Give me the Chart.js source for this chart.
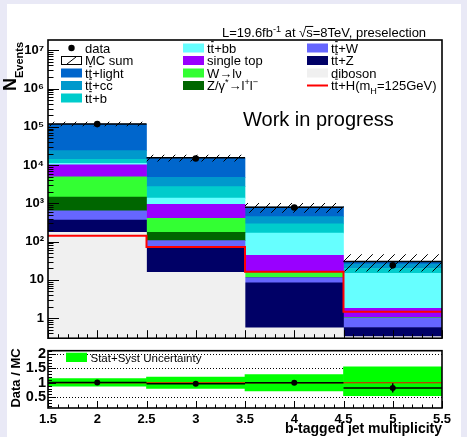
<!DOCTYPE html>
<html>
<head>
<meta charset="utf-8">
<script src="https://cdn.jsdelivr.net/npm/chart.js@4.4.0/dist/chart.umd.min.js"></script>
<style>
  html, body { margin: 0; padding: 0; background: #e9e9f6; }
  #page { position: relative; width: 467px; height: 437px; overflow: hidden; }
  #sheet { position: absolute; left: 7px; top: 4px; width: 454px; height: 433px; background: #fff; }
  canvas { position: absolute; left: 0; }
  #mainChart { top: 0; }
  #ratioChart { top: 340px; }
</style>
</head>
<body>
<div id="page">
  <div id="sheet"></div>
  <canvas id="mainChart" width="467" height="350"></canvas>
  <canvas id="ratioChart" width="467" height="97"></canvas>
</div>
<script>
// bins: b-tagged jet multiplicity 2, 3, 4, 5
const binCentres = [2, 3, 4, 5];
const binEdges = [1.5, 2.5, 3.5, 4.5, 5.5];
const xTicks = [1.5, 2, 2.5, 3, 3.5, 4, 4.5, 5, 5.5];
const yDecades = [1, 10, 100, 1e3, 1e4, 1e5, 1e6, 1e7];
const ratioTicks = [0.5, 1, 1.5, 2];

// expected yields per process
const diboson   = [174, 15.7, 0.56, 0];
const ttZ       = [194, 52, 7.8, 0.57];
const ttW       = [270, 38, 3.1, 0.43];
const Zll       = [821, 68, 0.3, 0.01];
const Wlv       = [3496, 231, 4.3, 0.02];
const singleTop = [5115, 543, 27.8, 0.78];
const ttbb      = [1000, 427, 123, 13.0];
const ttb       = [3120, 1372, 124, 5.1];
const ttcc      = [9710, 2008, 157, 5.9];
const ttlight   = [94100, 10745, 346, 4.3];
const ttH       = [143, 72, 16.4, 1.48];
const dataYield = [117500, 14900, 782, 24];

// ratio pad
const ratioVal  = [1.01, 0.97, 1.0, 0.82];
const ratioErr  = [0.003, 0.008, 0.036, 0.16];
const bandLow   = [0.88, 0.80, 0.72, 0.55];
const bandHigh  = [1.15, 1.20, 1.29, 1.56];

const Y_MIN = 0.33, Y_MAX = 1.85e7;
const R_MIN = 0.12, R_MAX = 2.12;

const FONT = '"Liberation Sans", Arial, Helvetica, sans-serif';
Chart.defaults.font.family = FONT;
Chart.defaults.color = '#000';

// stack, bottom first
const stackOrder = [
  ['diboson', diboson, '#f0f0f0'],
  ['ttZ', ttZ, '#000066'],
  ['ttW', ttW, '#6666ff'],
  ['Zll', Zll, '#006600'],
  ['Wlv', Wlv, '#33ff33'],
  ['singleTop', singleTop, '#9900ff'],
  ['ttbb', ttbb, '#66ffff'],
  ['ttb', ttb, '#00cccc'],
  ['ttcc', ttcc, '#0099cc'],
  ['ttlight', ttlight, '#0066cc']
];
const colorOf = {};
stackOrder.forEach(s => { colorOf[s[0]] = s[2]; });

// all bars share one stack slot so each one fills the whole bin
const barBase = { type: 'bar', stack: 'mc', borderWidth: 0, barThickness: 'flex', categoryPercentage: 1, barPercentage: 1 };

const cum = binCentres.map(() => 0);
const stackSets = stackOrder.map(([name, vals, color]) => {
  const pts = binCentres.map((x, i) => {
    const lo = cum[i];
    cum[i] += vals[i];
    return { x: x, y: [Math.max(lo, Y_MIN), Math.max(cum[i], Y_MIN)] };
  });
  return Object.assign({}, barBase, { label: name, data: pts, backgroundColor: color, order: 10 });
});
const mcTotal = cum.slice();

// hatch for MC sum uncertainty
function makeHatch() {
  const c = document.createElement('canvas');
  c.width = 11; c.height = 11;
  const g = c.getContext('2d');
  g.strokeStyle = '#000';
  g.lineWidth = 1;
  g.beginPath();
  g.moveTo(0, 11); g.lineTo(11, 0);
  g.moveTo(-1, 1); g.lineTo(1, -1);
  g.moveTo(10, 12); g.lineTo(12, 10);
  g.stroke();
  return g.createPattern(c, 'repeat');
}

// horizontal segment per bin, broken between bins
function binSegments(vals) {
  const pts = [];
  vals.forEach((v, i) => {
    pts.push({ x: binEdges[i], y: v }, { x: binEdges[i + 1], y: v }, { x: binEdges[i + 1], y: null });
  });
  return pts;
}

function stepPoints(vals) {
  const pts = vals.map((v, i) => ({ x: binEdges[i], y: v }));
  pts.push({ x: binEdges[vals.length], y: vals[vals.length - 1] });
  return pts;
}

const supDigits = { 0: '\u2070', 1: '\u00b9', 2: '\u00b2', 3: '\u00b3', 4: '\u2074', 5: '\u2075', 6: '\u2076', 7: '\u2077' };
function powLabel(v) {
  const e = Math.round(Math.log10(v));
  if (e === 0) return '1';
  if (e === 1) return '10';
  return '10' + supDigits[e];
}

// text with sub/superscripts and bars: parts = [text, mode, size, drop]
function drawRich(ctx, parts, x, y, size, bold) {
  let cx = x;
  parts.forEach(p => {
    const t = p[0], m = p[1] || '';
    const s = p[2] || ((m === 'sup' || m === 'sub') ? size * 0.7 : size);
    ctx.font = (bold ? 'bold ' : '') + s + 'px ' + FONT;
    let dy = 0;
    if (m === 'sup') dy = -size * 0.42;
    if (m === 'sub') dy = p[3] !== undefined ? p[3] : size * 0.3;
    ctx.fillText(t, cx, y + dy);
    const w = ctx.measureText(t).width;
    if (m === 'bar') ctx.fillRect(cx + 0.5, y - size * 0.88, w - 1, 1);
    if (m === 'sqrt') {
      ctx.fillRect(cx + w - 1, y - size * 0.85, ctx.measureText('s').width + 1.5, 1);
    }
    cx += w;
  });
  return cx - x;
}

// ROOT-like frame with ticks inside
const rootFrame = {
  id: 'rootFrame',
  beforeDatasetsDraw(chart, args, opts) {
    if (!opts.dotted) return;
    const { ctx, chartArea: a, scales: { y } } = chart;
    ctx.save();
    ctx.strokeStyle = '#000';
    ctx.lineWidth = 1;
    ctx.setLineDash([1, 2]);
    opts.dotted.forEach(v => {
      const py = Math.round(y.getPixelForValue(v)) + 0.5;
      ctx.beginPath(); ctx.moveTo(a.left, py); ctx.lineTo(a.right, py); ctx.stroke();
    });
    ctx.restore();
  },
  afterDatasetsDraw(chart, args, opts) {
    const { ctx, chartArea: a, scales: { x, y } } = chart;
    ctx.save();
    ctx.strokeStyle = '#000';
    ctx.lineWidth = 1;
    ctx.beginPath();
    // x ticks: majors every 0.5, minors every 0.1
    for (let i = 15; i <= 55; i++) {
      const px = Math.round(x.getPixelForValue(i / 10)) + 0.5;
      const len = i % 5 === 0 ? opts.xMajorLen : opts.xMinorLen;
      ctx.moveTo(px, a.bottom); ctx.lineTo(px, a.bottom - len);
    }
    // y ticks
    opts.yMinor.forEach(v => {
      const py = Math.round(y.getPixelForValue(v)) + 0.5;
      ctx.moveTo(a.left, py); ctx.lineTo(a.left + opts.yMinorLen, py);
    });
    opts.yMajor.forEach(v => {
      const py = Math.round(y.getPixelForValue(v)) + 0.5;
      ctx.moveTo(a.left, py); ctx.lineTo(a.left + opts.yMajorLen, py);
    });
    ctx.stroke();
    ctx.lineWidth = 1.6;
    ctx.strokeRect(a.left, a.top, a.right - a.left, a.bottom - a.top);
    ctx.restore();
  }
};

const logMinor = [];
for (let d = 0.1; d <= 1e7; d *= 10) {
  for (let k = 2; k <= 9; k++) {
    const v = k * d;
    if (v > Y_MIN && v < Y_MAX) logMinor.push(v);
  }
}
const linMinor = [];
for (let i = 2; i <= 21; i++) linMinor.push(i / 10);

const tt = (rest) => [['t'], ['t', 'bar'], [rest]];
const legendCols = [
  { x: 61, rows: [
    { kind: 'dot', text: [['data']] },
    { kind: 'hatch', text: [['MC sum']] },
    { kind: 'box', color: colorOf.ttlight, text: tt('+light') },
    { kind: 'box', color: colorOf.ttcc, text: tt('+cc') },
    { kind: 'box', color: colorOf.ttb, text: tt('+b') }
  ] },
  { x: 183, rows: [
    { kind: 'box', color: colorOf.ttbb, text: tt('+bb') },
    { kind: 'box', color: colorOf.singleTop, text: [['single top']] },
    { kind: 'box', color: colorOf.Wlv, text: [['W\u2192l\u03bd']] },
    { kind: 'box', color: colorOf.Zll, text: [['Z/\u03b3'], ['*', 'sup'], ['\u2192l'], ['+', 'sup'], ['l'], ['\u2212', 'sup']] }
  ] },
  { x: 307, rows: [
    { kind: 'box', color: colorOf.ttW, text: tt('+W') },
    { kind: 'box', color: colorOf.ttZ, text: tt('+Z') },
    { kind: 'box', color: colorOf.diboson, text: [['diboson']] },
    { kind: 'line', color: '#ff0000', text: [['t'], ['t', 'bar'], ['+H(m'], ['H', 'sub'], ['=125GeV)']] }
  ] }
];

const mainDecor = {
  id: 'mainDecor',
  afterDraw(chart) {
    const ctx = chart.ctx;
    ctx.save();
    ctx.fillStyle = '#000';
    ctx.textBaseline = 'alphabetic';
    ctx.textAlign = 'left';

    // legend
    legendCols.forEach(col => {
      col.rows.forEach((r, i) => {
        const cy = 48 + i * 12.5;
        const bx = col.x, bw = 21, bh = 9;
        if (r.kind === 'box') {
          ctx.fillStyle = r.color;
          ctx.fillRect(bx, cy - bh / 2, bw, bh);
        } else if (r.kind === 'hatch') {
          ctx.strokeStyle = '#000'; ctx.lineWidth = 1;
          ctx.strokeRect(bx + 0.5, cy - bh / 2 + 0.5, bw - 1, bh - 1);
          ctx.beginPath(); ctx.moveTo(bx + 6, cy + bh / 2 - 1); ctx.lineTo(bx + 15, cy - bh / 2 + 1); ctx.stroke();
        } else if (r.kind === 'dot') {
          ctx.fillStyle = '#000';
          ctx.beginPath(); ctx.arc(bx + bw / 2, cy, 3.2, 0, Math.PI * 2); ctx.fill();
        } else if (r.kind === 'line') {
          ctx.fillStyle = r.color;
          ctx.fillRect(bx, cy - 1, bw, 2);
        }
        ctx.fillStyle = '#000';
        drawRich(ctx, r.text, bx + 24, cy + 4.6, 13, false);
      });
    });

    // luminosity line
    drawRich(ctx, [['L=19.6fb'], ['-1', 'sup'], [' at '], ['\u221a', 'sqrt'], ['s=8TeV, preselection']], 222, 37, 13, false);

    ctx.font = '20px ' + FONT;
    ctx.fillText('Work in progress', 243, 126);

    // y title N_Events
    ctx.translate(15.5, 91);
    ctx.rotate(-Math.PI / 2);
    drawRich(ctx, [['N', '', 18], ['Events', 'sub', 11, 7.5]], 0, 0, 18, true);
    ctx.restore();
  }
};

const ratioDecor = {
  id: 'ratioDecor',
  afterDraw(chart) {
    const ctx = chart.ctx;
    ctx.save();
    ctx.fillStyle = '#00ff00';
    ctx.fillRect(66, 12.7, 21, 9.3);
    ctx.fillStyle = '#000';
    ctx.font = '11.5px ' + FONT;
    ctx.textBaseline = 'alphabetic';
    ctx.fillText('Stat+Syst Uncertainty', 90.5, 21.5);

    ctx.font = 'bold 14px ' + FONT;
    ctx.textAlign = 'right';
    ctx.fillText('b-tagged jet multiplicity', 442, 93);

    ctx.translate(20, 38);
    ctx.rotate(-Math.PI / 2);
    ctx.textAlign = 'center';
    ctx.font = 'bold 13px ' + FONT;
    ctx.fillText('Data / MC', 0, 0);
    ctx.restore();
  }
};

const tickFont = { size: 13, weight: 'bold' };

new Chart(document.getElementById('mainChart'), {
  type: 'bar',
  data: {
    datasets: [
      { type: 'line', label: 'data', data: binCentres.map((x, i) => ({ x: x, y: dataYield[i] })),
        showLine: false, pointRadius: 3.3, pointBackgroundColor: '#000', pointBorderWidth: 0, order: 0 },
      { type: 'line', label: 'ttH', data: stepPoints(ttH), stepped: true, borderColor: '#ff0000',
        borderWidth: 2, pointRadius: 0, fill: false, order: 1 },
      { type: 'line', label: 'MC sum line', data: binSegments(mcTotal), spanGaps: false, borderColor: '#000',
        borderWidth: 1.5, pointRadius: 0, fill: false, order: 2 },
      Object.assign({}, barBase, { label: 'MC sum',
        data: binCentres.map((x, i) => ({ x: x, y: [mcTotal[i] * bandLow[i], mcTotal[i] * bandHigh[i]] })),
        backgroundColor: makeHatch(), inflateAmount: 0, order: 3 }),
      ...stackSets
    ]
  },
  options: {
    responsive: false,
    animation: false,
    events: [],
    layout: { padding: { left: 7, right: 25, top: 40, bottom: 8 } },
    plugins: {
      legend: { display: false },
      tooltip: { enabled: false },
      rootFrame: { xMajorLen: 8, xMinorLen: 4, yMajor: yDecades, yMinor: logMinor, yMajorLen: 11, yMinorLen: 5.5 }
    },
    scales: {
      x: { type: 'linear', min: 1.5, max: 5.5, offset: false, display: false },
      y: {
        type: 'logarithmic', min: Y_MIN, max: Y_MAX, stacked: false,
        grid: { display: false, drawTicks: false }, border: { display: false },
        afterBuildTicks: s => { s.ticks = yDecades.map(v => ({ value: v })); },
        afterFit: s => { s.width = 41; },
        ticks: { callback: v => powLabel(v), font: tickFont, color: '#000', padding: 4, autoSkip: false }
      }
    }
  },
  plugins: [rootFrame, mainDecor]
});

new Chart(document.getElementById('ratioChart'), {
  type: 'bar',
  data: {
    datasets: [
      { type: 'line', label: 'ratio points', data: binCentres.map((x, i) => ({ x: x, y: ratioVal[i] })),
        showLine: false, pointRadius: 3, pointBackgroundColor: '#000', pointBorderWidth: 0, order: 0 },
      { type: 'line', label: 'ratio errors',
        data: binCentres.flatMap((x, i) => [{ x: x, y: ratioVal[i] - ratioErr[i] }, { x: x, y: ratioVal[i] + ratioErr[i] }, { x: x, y: null }]),
        spanGaps: false, borderColor: '#000', borderWidth: 1.5, pointRadius: 0, order: 1 },
      { type: 'line', label: 'ratio', data: binSegments(ratioVal), spanGaps: false, borderColor: '#000',
        borderWidth: 1.5, pointRadius: 0, order: 2 },
      { type: 'line', label: 'unity', data: [{ x: 1.5, y: 1 }, { x: 5.5, y: 1 }], borderColor: '#ff0000',
        borderWidth: 1, pointRadius: 0, order: 3 },
      Object.assign({}, barBase, { label: 'Stat+Syst Uncertainty',
        data: binCentres.map((x, i) => ({ x: x, y: [bandLow[i], bandHigh[i]] })),
        backgroundColor: '#00ff00', order: 10 })
    ]
  },
  options: {
    responsive: false,
    animation: false,
    events: [],
    layout: { padding: { left: 7, right: 25, top: 7, bottom: 9 } },
    plugins: {
      legend: { display: false },
      tooltip: { enabled: false },
      rootFrame: { dotted: [0.5, 1.5, 2], xMajorLen: 7, xMinorLen: 3.5, yMajor: ratioTicks, yMinor: linMinor, yMajorLen: 8, yMinorLen: 4 }
    },
    scales: {
      x: {
        type: 'linear', min: 1.5, max: 5.5, offset: false,
        grid: { display: false, drawTicks: false }, border: { display: false },
        afterBuildTicks: s => { s.ticks = xTicks.map(v => ({ value: v })); },
        afterFit: s => { s.height = 20; },
        ticks: { callback: v => String(v), font: tickFont, color: '#000', padding: 4, autoSkip: false, maxRotation: 0 }
      },
      y: {
        type: 'linear', min: R_MIN, max: R_MAX, stacked: false,
        grid: { display: false, drawTicks: false }, border: { display: false },
        afterBuildTicks: s => { s.ticks = ratioTicks.map(v => ({ value: v })); },
        afterFit: s => { s.width = 41; },
        ticks: { callback: v => String(v), font: { size: 14.5, weight: 'bold' }, color: '#000', padding: 2, autoSkip: false }
      }
    }
  },
  plugins: [rootFrame, ratioDecor]
});
</script>
</body>
</html>
